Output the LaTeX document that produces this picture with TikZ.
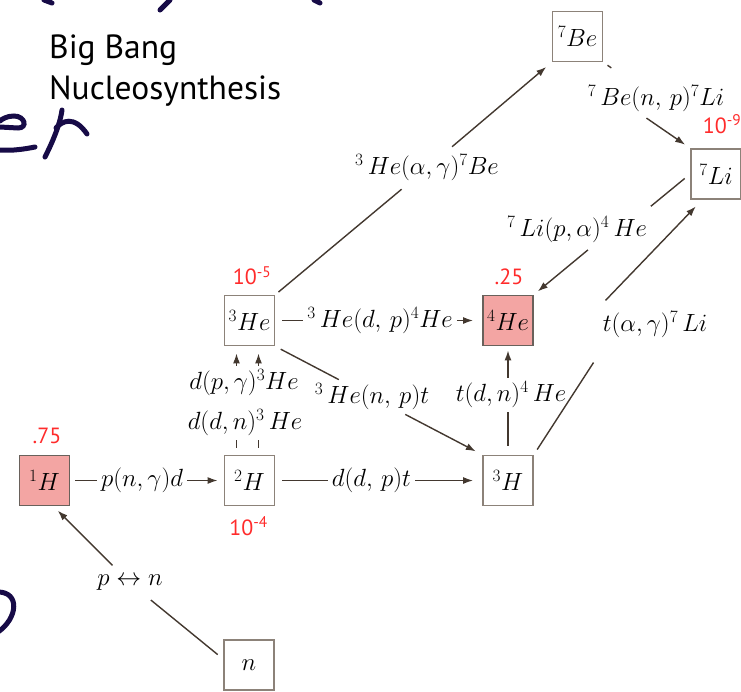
\documentclass[tikz,border=0pt]{standalone}
\usepackage{fontspec}
\setsansfont{PT Sans}
\usepackage{tikz}
\usetikzlibrary{arrows.meta,positioning,calc}
\definecolor{bbnline}{HTML}{43382F}
\definecolor{bbnframe}{HTML}{8C8279}
\definecolor{bbnpink}{HTML}{F3A5A3}
\definecolor{bbnred}{HTML}{FF2B2B}
\definecolor{bbnink}{HTML}{170B47}

\begin{document}
\begin{tikzpicture}[
  x=1pt,y=-1pt,
  font=\fontsize{23}{27}\selectfont,
  iso/.style={draw=bbnframe,line width=1.8pt,minimum size=50pt,inner sep=0pt},
  hot/.style={iso,fill=bbnpink,draw=bbnframe!75!black},
  rxn/.style={inner sep=4pt},
  abund/.style={text=bbnred,font=\sffamily\fontsize{22}{24}\selectfont,inner sep=0pt},
  link/.style={draw=bbnline,line width=1.4pt},
  flow/.style={link,-{Latex[length=10pt,width=7pt]}},
  ink/.style={draw=bbnink,line width=5pt,line cap=round}
]
\useasboundingbox (0,0) rectangle (741,691);

\draw[ink] (44,0) -- (52,3);
\draw[ink] (170,0) -- (160,10);
\draw[ink] (314,0) -- (320,3);
\draw[ink] (0,127) -- (18,128) .. controls (28,128) and (25,116) .. (14,116) .. controls (7,116) and (2,119) .. (0,121);
\draw[ink] (0,150) .. controls (12,151) and (25,149) .. (35,147);
\draw[ink] (62,110) .. controls (60,125) and (52,143) .. (45,157);
\draw[ink] (56,128) .. controls (62,121) and (74,115) .. (87,134);
\draw[ink] (-2,592) .. controls (20,592) and (18,618) .. (-2,632);

\node[anchor=north west,align=left,inner sep=0pt,font=\sffamily\fontsize{33.5}{41}\selectfont] (ttl) at (49,35) {Big Bang\\Nucleosynthesis};

\node[hot] (h1) at (44.5,480.5) {${}^{1}H$};
\node[iso] (h2) at (249.5,480.5) {${}^{2}H$};
\node[iso] (h3) at (508,480.5) {${}^{3}H$};
\node[iso] (h3e) at (249.5,320.5) {${}^{3}He$};
\node[hot] (h4e) at (508,320.5) {${}^{4}He$};
\node[iso] (be7) at (577.5,36.5) {${}^{7}Be$};
\node[iso] (li7) at (716,174) {${}^{7}Li$};
\node[iso] (nn) at (249,665) {$n$};

\node[abund] (a1) at (47,435.5) {.75};
\node[abund] (a2) at (248.5,526) {10\textsuperscript{-4}};
\node[abund] (a3) at (252,275.5) {10\textsuperscript{-5}};
\node[abund] (a4) at (509,277) {.25};
\node[abund] (a7) at (722,124) {10\textsuperscript{-9}};

\node[rxn] (rpn) at (130,583) {$p\leftrightarrow n$};
\draw[link,shorten <=7pt,shorten >=8pt] ([yshift=6pt]nn.west) -- (rpn);
\draw[flow,shorten <=8pt,shorten >=6pt] (rpn) -- ([xshift=9pt]h1.south);

\node[rxn] (rpg) at (142,480.5) {$p(n,\gamma)d$};
\draw[link,shorten <=5pt] (h1) -- (rpg);
\draw[flow,shorten >=6pt] (rpg) -- (h2);

\node[rxn] (rddp) at (371.5,480.5) {$d(d,\,p)t$};
\draw[link,shorten <=7pt] (h2) -- (rddp);
\draw[flow,shorten >=9pt] (rddp) -- (h3);

\node[rxn] (rdn) at (245,423) {$d(d,n)^{3}\,He$};
\node[rxn] (rpgm) at (244,383) {$d(p,\gamma)^{3}He$};
\foreach \dx in {-13,9} {
  \draw[link,shorten <=7pt] ($(h2.north)+(\dx,0)$) -- ($(h2.north |- rdn.south)+(\dx,0)$);
  \draw[flow,shorten >=7pt] ($(h3e.south |- rpgm.north)+(\dx,0)$) -- ($(h3e.south)+(\dx,0)$);
}

\node[rxn] (rdp4) at (380,320.5) {${}^{3}\,He(d,\,p)^{4}He$};
\draw[link,shorten <=7pt] (h3e) -- (rdp4);
\draw[flow,shorten >=9pt] (rdp4) -- (h4e);

\node[rxn] (rnp) at (372,397) {${}^{3}\,He(n,\,p)t$};
\draw[link,shorten <=6pt] (h3e.south east) -- (rnp);
\draw[flow,shorten >=7pt] (rnp) -- (h3.north west);

\node[rxn] (rtd) at (511,395) {$t(d,n)^{4}\,He$};
\draw[link,shorten <=9pt] (h3.north) -- (h3.north |- rtd.south);
\draw[flow,shorten >=4pt] (h4e.south |- rtd.north) -- (h4e.south);

\node[rxn] (rag) at (655,325) {$t(\alpha,\gamma)^{7}\,Li$};
\draw[link,shorten <=6pt,shorten >=24pt] (h3.north east) -- ([xshift=8pt]rag.south west);
\draw[flow,shorten <=10pt,shorten >=9pt] (rag.north west) -- ([xshift=12pt]li7.south west);

\node[rxn] (rag7) at (427,168) {${}^{3}\,He(\alpha,\gamma)^{7}Be$};
\draw[link,shorten <=4pt,shorten >=6pt] (h3e.north east) -- (rag7);
\draw[flow,shorten <=6pt,shorten >=7pt] (rag7) -- (be7.south west);

\node[rxn] (rbnp) at (656,99) {${}^{7}\,Be(n,\,p)^{7}Li$};
\draw[link,shorten <=5pt,shorten >=24pt] (be7.south east) -- (rbnp);
\draw[flow,shorten <=3pt,shorten >=6pt] ([xshift=-12pt]rbnp.south) -- (li7.north west);

\node[rxn] (rpa) at (577,230) {${}^{7}\,Li(p,\alpha)^{4}\,He$};
\draw[link,shorten <=7pt,shorten >=10pt] (li7.west) -- ([xshift=-8pt]rpa.north east);
\draw[flow,shorten <=4pt,shorten >=5pt] ([xshift=14pt]rpa.south) -- (h4e.north east);
\end{tikzpicture}
\end{document}
